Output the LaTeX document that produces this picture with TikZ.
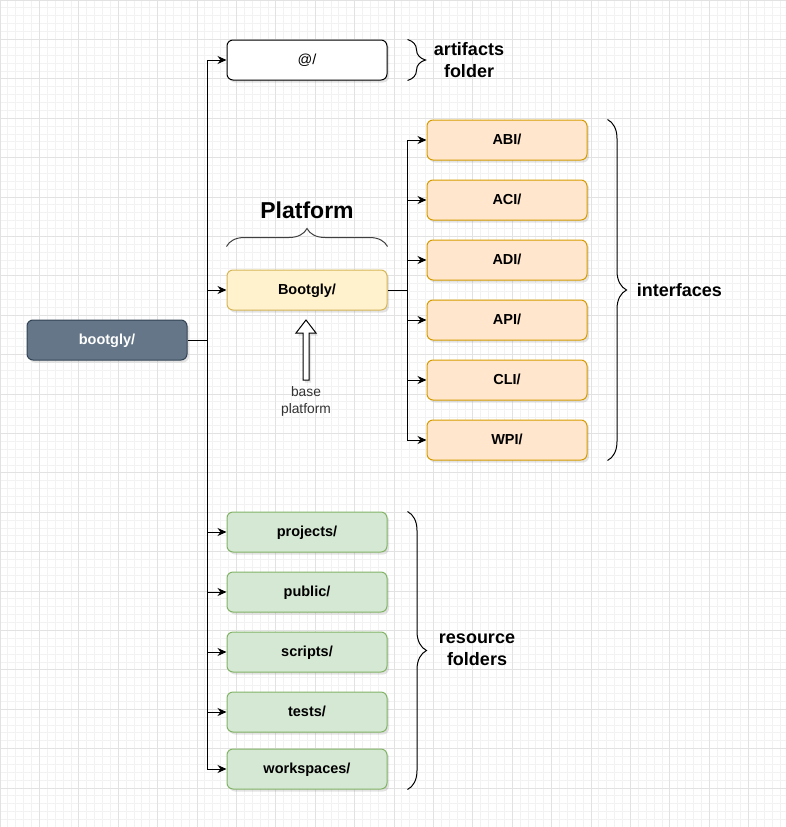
\documentclass[tikz,border=0pt]{standalone}
\usepackage{fontspec}
\setmainfont{Liberation Sans}
\usepackage{xcolor}
\usetikzlibrary{positioning}
\usetikzlibrary{shadows}
\usetikzlibrary{arrows.meta}
\usetikzlibrary{decorations.pathreplacing}

\definecolor{slatefill}{HTML}{647687}
\definecolor{slatedraw}{HTML}{314354}
\definecolor{yellowfill}{HTML}{FFF2CC}
\definecolor{yellowdraw}{HTML}{D6B656}
\definecolor{orangefill}{HTML}{FFE6CC}
\definecolor{orangedraw}{HTML}{D79B00}
\definecolor{greenfill}{HTML}{D5E8D4}
\definecolor{greendraw}{HTML}{82B366}
\definecolor{gridminor}{HTML}{F2F2F2}
\definecolor{gridmajor}{HTML}{E2E2E2}

\begin{document}
\begin{tikzpicture}[
	x=1pt, y=-1pt,
	line width=1pt,
	font=\bfseries\fontsize{14.5}{17}\selectfont
]
\tikzset{
    foldernode/.style = {rectangle, rounded corners=6pt, draw=black, fill=white, text=black, minimum width=160pt, minimum height=40pt, inner sep=0pt,
        text height=10.5pt, text depth=1.5pt,
        drop shadow={opacity=0.22, shadow xshift=2pt, shadow yshift=-2.5pt}},
    rootnode/.style = {foldernode, draw=slatedraw, fill=slatefill, text=white},
    platformnode/.style = {foldernode, draw=yellowdraw, fill=yellowfill},
    ifacenode/.style = {foldernode, draw=orangedraw, fill=orangefill},
    resnode/.style = {foldernode, draw=greendraw, fill=greenfill},
		edgestyle/.style = {draw=black, -{Stealth[length=9pt,width=8pt,inset=3pt]}},
		bracestyle/.style = {draw=black, decorate, decoration={brace, amplitude=#1}},
		bracelabel/.style = {align=center, font=\bfseries\fontsize{18}{22}\selectfont}
}
% background and grid
\useasboundingbox (0,0) rectangle (786,827);
\fill[white] (0,0) rectangle (786,827);
\draw[gridminor, line width=0.8pt] (0,827) grid[step=7.88pt] (786,0);
\draw[gridmajor, line width=0.8pt] (0,827) grid[step=39.4pt] (786,0);

% folders
\node[rootnode] (bootgly) at (107,340) {bootgly/};
\node[foldernode, font=\fontsize{14.5}{17}\selectfont] (artifacts) at (307,60) {@/};
\node[platformnode] (platform) at (307,290) {Bootgly/};

\node[ifacenode] (abi) at (507,140) {ABI/};
\node[ifacenode, below=19pt of abi] (aci) {ACI/};
\node[ifacenode, below=19pt of aci] (adi) {ADI/};
\node[ifacenode, below=19pt of adi] (api) {API/};
\node[ifacenode, below=19pt of api] (cli) {CLI/};
\node[ifacenode, below=19pt of cli] (wpi) {WPI/};

\node[resnode] (projects) at (307,532) {projects/};
\node[resnode, below=19pt of projects] (public) {public/};
\node[resnode, below=19pt of public] (scripts) {scripts/};
\node[resnode, below=19pt of scripts] (tests) {tests/};
\node[resnode, below=16pt of tests] (workspaces) {workspaces/};

% connectors
\coordinate (trunk) at ([xshift=20pt]bootgly.east);
\draw (bootgly.east) -- (trunk);
\draw[edgestyle] (trunk) |- (artifacts.west);
\draw[edgestyle] (trunk) |- (platform.west);
\draw[edgestyle] (trunk) |- (projects.west);
\draw[edgestyle] (trunk) |- (public.west);
\draw[edgestyle] (trunk) |- (scripts.west);
\draw[edgestyle] (trunk) |- (tests.west);
\draw[edgestyle] (trunk) |- (workspaces.west);

\coordinate (ifacetrunk) at ([xshift=20pt]platform.east);
\draw (platform.east) -- (ifacetrunk);
\draw[edgestyle] (ifacetrunk) |- (abi.west);
\draw[edgestyle] (ifacetrunk) |- (aci.west);
\draw[edgestyle] (ifacetrunk) |- (adi.west);
\draw[edgestyle] (ifacetrunk) |- (api.west);
\draw[edgestyle] (ifacetrunk) |- (cli.west);
\draw[edgestyle] (ifacetrunk) |- (wpi.west);

% braces and their labels
\draw[bracestyle=18pt] ([xshift=20pt]artifacts.north east) -- ([xshift=20pt]artifacts.south east);
\node[bracelabel] (artifactslabel) at (469,60) {artifacts\\folder};

\draw[bracestyle=18pt, draw=black!75] ([yshift=23pt]platform.north west) -- ([yshift=23pt]platform.north east);
\node[font=\bfseries\fontsize{23}{27}\selectfont] (platformlabel) at (307,210) {Platform};

\draw[bracestyle=19pt] ([xshift=20pt]abi.north east) -- ([xshift=20pt]wpi.south east);
\node[bracelabel, anchor=west] (ifacelabel) at (633,290) {interfaces};

\draw[bracestyle=19pt] ([xshift=20pt]projects.north east) -- ([xshift=20pt]workspaces.south east);
\node[bracelabel] (reslabel) at (477,650) {resource\\folders};

% base platform marker
\draw[fill=white, drop shadow={opacity=0.22, shadow xshift=2pt, shadow yshift=-2.5pt}]
	(303,380) -- (303,333) -- (296,333) -- (306,320) -- (316,333) -- (309,333) -- (309,380) -- cycle;
\node[align=center, text=black!80, font=\fontsize{13.8}{17}\selectfont] (baselabel) at (306,401) {base\\platform};
\end{tikzpicture}
\end{document}
